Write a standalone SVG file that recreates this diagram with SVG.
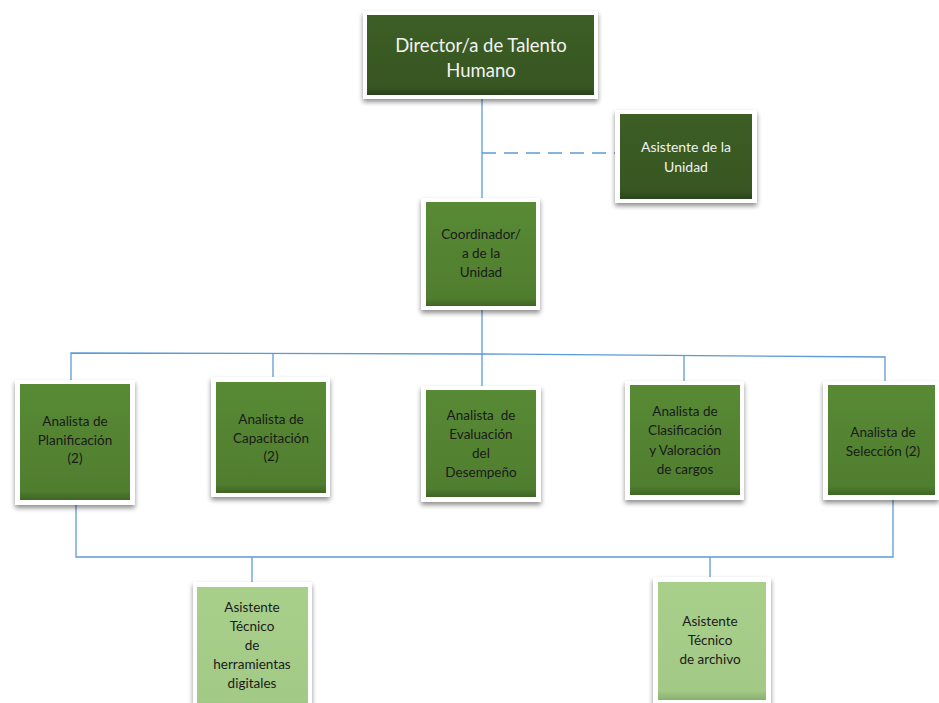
<svg xmlns="http://www.w3.org/2000/svg" width="939" height="703" viewBox="0 0 939 703">
<style>
.frame{fill:#fff;filter:url(#sh)}
.dark{fill:url(#gd)}
.mid{fill:url(#gm)}
.light{fill:url(#gl)}
.tw{font-family:Lato,"Open Sans","Liberation Sans",sans-serif;fill:#f2f2f2;text-anchor:middle}
.tb{font-family:Lato,"Open Sans","Liberation Sans",sans-serif;fill:#1a1a1a;text-anchor:middle;font-size:13.5px}
.ln{stroke:#5b9bd5;stroke-width:1.3;fill:none}
</style>
<defs>
<filter id="sh" x="-20%" y="-20%" width="140%" height="150%">
<feGaussianBlur in="SourceAlpha" stdDeviation="2.5"/>
<feOffset dx="0" dy="3" result="b"/>
<feComponentTransfer><feFuncA type="linear" slope="0.45"/></feComponentTransfer>
<feMerge><feMergeNode/><feMergeNode in="SourceGraphic"/></feMerge>
</filter>
<linearGradient id="gd" x1="0" y1="0" x2="0" y2="1">
<stop offset="0" stop-color="#3d5e25"/><stop offset="0.9" stop-color="#375622"/><stop offset="1" stop-color="#2b431a"/>
</linearGradient>
<linearGradient id="gm" x1="0" y1="0" x2="0" y2="1">
<stop offset="0" stop-color="#588a35"/><stop offset="0.92" stop-color="#507e2f"/><stop offset="1" stop-color="#3f6524"/>
</linearGradient>
<linearGradient id="gl" x1="0" y1="0" x2="0" y2="1">
<stop offset="0" stop-color="#a9d08b"/><stop offset="0.92" stop-color="#a2c985"/><stop offset="1" stop-color="#89b06c"/>
</linearGradient>
</defs>
<rect width="939" height="703" fill="#fff"/>
<g id="connectors">
<line class="ln" x1="482" y1="97" x2="482" y2="200"/>
<line class="ln" x1="482" y1="153" x2="615" y2="153" stroke-dasharray="14,8"/>
<line class="ln" x1="482" y1="310" x2="482" y2="386"/>
<polyline class="ln" points="71,380 71,353 482,354 885,357 885,381"/>
<line class="ln" x1="273" y1="354" x2="273" y2="377"/>
<line class="ln" x1="684" y1="356" x2="684" y2="381"/>
<polyline class="ln" points="76,505 76,557 893,557 893,500"/>
<line class="ln" x1="252" y1="557" x2="252" y2="582"/>
<line class="ln" x1="710" y1="557" x2="710" y2="577"/>
</g>
<g id="director">
<rect class="frame" x="363" y="11" width="235" height="88"/>
<rect class="dark" x="367" y="15" width="227" height="80"/>
<text class="tw" font-size="18.5" x="481" y="52">Director/a de Talento</text>
<text class="tw" font-size="18.5" x="481" y="77">Humano</text>
</g>
<g id="asistente-unidad">
<rect class="frame" x="615" y="110" width="142" height="93"/>
<rect class="dark" x="620" y="114" width="132" height="85"/>
<text class="tw" font-size="14" x="686" y="152">Asistente de la</text>
<text class="tw" font-size="14" x="686" y="172">Unidad</text>
</g>
<g id="coordinador">
<rect class="frame" x="421" y="198" width="119" height="112"/>
<rect class="mid" x="426" y="202" width="110" height="104"/>
<text class="tb" x="481" y="239">Coordinador/</text>
<text class="tb" x="481" y="258">a de la</text>
<text class="tb" x="481" y="277">Unidad</text>
</g>
<g id="planificacion">
<rect class="frame" x="15" y="380" width="120" height="125"/>
<rect class="mid" x="20" y="384" width="110" height="116"/>
<text class="tb" x="75" y="426">Analista de</text>
<text class="tb" x="75" y="445">Planificación</text>
<text class="tb" x="75" y="463">(2)</text>
</g>
<g id="capacitacion">
<rect class="frame" x="211" y="377" width="119" height="120"/>
<rect class="mid" x="216" y="382" width="110" height="111"/>
<text class="tb" x="271" y="424">Analista de</text>
<text class="tb" x="271" y="443">Capacitación</text>
<text class="tb" x="271" y="461">(2)</text>
</g>
<g id="evaluacion">
<rect class="frame" x="421" y="386" width="120" height="116"/>
<rect class="mid" x="426" y="390" width="110" height="107"/>
<text class="tb" x="481" y="420" xml:space="preserve">Analista  de</text>
<text class="tb" x="481" y="439">Evaluación</text>
<text class="tb" x="481" y="458">del</text>
<text class="tb" x="481" y="477">Desempeño</text>
</g>
<g id="clasificacion">
<rect class="frame" x="625" y="381" width="119" height="119"/>
<rect class="mid" x="630" y="385" width="110" height="110"/>
<text class="tb" x="685" y="416">Analista de</text>
<text class="tb" x="685" y="435">Clasificación</text>
<text class="tb" x="685" y="455">y Valoración</text>
<text class="tb" x="685" y="474">de cargos</text>
</g>
<g id="seleccion">
<rect class="frame" x="823" y="381" width="116" height="119"/>
<rect class="mid" x="828" y="385" width="107" height="110"/>
<text class="tb" x="883" y="437">Analista de</text>
<text class="tb" x="883" y="456">Selección (2)</text>
</g>
<g id="asistente-herramientas">
<rect class="frame" x="193" y="582" width="119" height="130"/>
<rect class="light" x="197" y="587" width="111" height="125"/>
<text class="tb" x="252" y="612">Asistente</text>
<text class="tb" x="252" y="631">Técnico</text>
<text class="tb" x="252" y="650">de</text>
<text class="tb" x="252" y="669">herramientas</text>
<text class="tb" x="252" y="688">digitales</text>
</g>
<g id="asistente-archivo">
<rect class="frame" x="653" y="577" width="118" height="127"/>
<rect class="light" x="658" y="582" width="108" height="118"/>
<text class="tb" x="710" y="626">Asistente</text>
<text class="tb" x="710" y="645">Técnico</text>
<text class="tb" x="710" y="664">de archivo</text>
</g>
</svg>
